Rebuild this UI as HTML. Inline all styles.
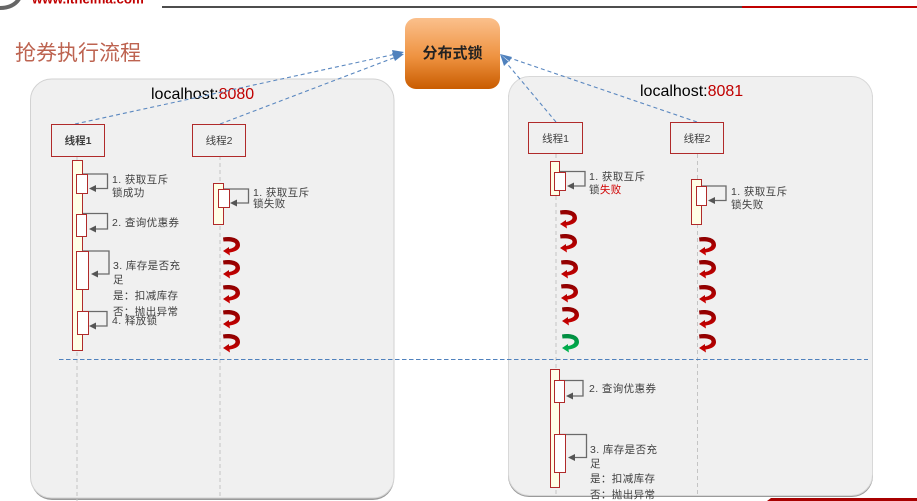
<!DOCTYPE html>
<html><head><meta charset="utf-8">
<style>
html,body{margin:0;padding:0;background:#fff;width:917px;height:501px;overflow:hidden}
svg{display:block}
text{font-family:"Liberation Sans","WenQuanYi Zen Hei","Noto Sans CJK SC",sans-serif}
.t{font-size:10.5px;fill:#404040;letter-spacing:.4px}
.n{font-size:10.5px;fill:#404040;text-anchor:middle}
.h{font-size:16px;fill:#000}
.bar{fill:#ffffe6;stroke:#b02a2a;stroke-width:1}
.in{fill:#fff;stroke:#b02a2a;stroke-width:1}
.th{fill:#f0f0f0;stroke:#b02a2a;stroke-width:1}
.life{stroke:#c4c4c4;stroke-width:1;stroke-dasharray:4 3;fill:none}
.loop{fill:none;stroke:#6a6a6a;stroke-width:1.300}
.ah{fill:#555}
.flow{stroke:#5b88c0;stroke-width:1.100;stroke-dasharray:4 3;fill:none}
</style></head><body>
<svg width="917" height="501" viewBox="0 0 917 501" xmlns="http://www.w3.org/2000/svg">
<defs>
<linearGradient id="lock" x1="0" y1="0" x2="0" y2="1"><stop offset="0" stop-color="#fbc08c"/><stop offset=".55" stop-color="#ee9240"/><stop offset="1" stop-color="#c95c00"/></linearGradient>
<linearGradient id="red" x1="0" y1="0" x2="0" y2="1"><stop offset="0" stop-color="#8c0000"/><stop offset="1" stop-color="#d00000"/></linearGradient>
<linearGradient id="green" x1="0" y1="0" x2="0" y2="1"><stop offset="0" stop-color="#008a40"/><stop offset="1" stop-color="#00b850"/></linearGradient>
<path id="curl" d="M0,.5 C8,-1 17,1 17,8 C17,13 11,15 6.500,15.500 L7,18.500 L0,14 L6,10 L6,12 C9,11.500 12.500,10 12.500,7.500 C12.500,4.500 6,4 .5,4.500 Z"/>
</defs>

<!-- header -->
<path d="M0,8 C8,8 15,5 19,-1" fill="none" stroke="#666" stroke-width="4"/>
<text x="32" y="3.500" font-size="13.300" font-weight="bold" fill="#c00000">www.itheima.com</text>
<rect x="162" y="6" width="580" height="2" fill="#4d4d4d"/>
<rect x="742" y="6" width="175" height="2" fill="#c00000"/>
<text x="15" y="60" font-size="21" fill="#bd6350">抢券执行流程</text>

<!-- panels -->
<rect x="31" y="81" width="363" height="419" rx="21" fill="#9a9a9a"/>
<rect x="30.500" y="79" width="363.500" height="419" rx="21" fill="#f0f0f0" stroke="#d2d2d2"/>
<rect x="508" y="78" width="365" height="419" rx="21" fill="#9a9a9a"/>
<rect x="508.500" y="76.500" width="364" height="419" rx="21" fill="#f0f0f0" stroke="#d8d8d8"/>
<path d="M767,501 L771,498 H917 V501 Z" fill="#a80000"/>

<text class="h" x="151" y="99">localhost:<tspan fill="#c00000">8080</tspan></text>
<text class="h" x="640" y="96">localhost:<tspan fill="#c00000">8081</tspan></text>

<!-- lifelines -->
<path class="life" d="M77,156V501M220,156V497M556,154V497M697.500,154V495"/>

<!-- lock -->
<rect x="405" y="18" width="95" height="71" rx="11" fill="url(#lock)"/>
<text x="452.500" y="58" font-size="15" font-weight="bold" fill="#222" text-anchor="middle">分布式锁</text>

<!-- flow arrows -->
<path class="flow" d="M75,124L396,54M220,124L396,57M556,122L504,60M697,122L507,57"/>
<path d="M404,52L392,50L394,59ZM404,54L392,53L395,61Z" fill="#4f81bd"/>
<path d="M500,54L512,57L509,62ZM500,54L504,66L509,61Z" fill="#4f81bd"/>

<!-- dashed separator -->
<path d="M59,359.500H868" stroke="#4f81bd" stroke-width="1" stroke-dasharray="4.500 2.500"/>

<!-- thread boxes -->
<rect class="th" x="51.500" y="124.500" width="53" height="32"/>
<text class="n" x="78" y="144" font-weight="bold">线程1</text>
<rect class="th" x="192.500" y="124.500" width="53" height="32"/>
<text class="n" x="219" y="144">线程2</text>
<rect class="th" x="528.500" y="122.500" width="54" height="31"/>
<text class="n" x="555.500" y="142">线程1</text>
<rect class="th" x="670.500" y="122.500" width="53" height="31"/>
<text class="n" x="697" y="142">线程2</text>

<!-- left thread 1 -->
<rect class="bar" x="72.500" y="160.500" width="10" height="190"/>
<path class="loop" d="M83,174H107.500V188.500H92M83,213.500H107.500V229H92M82,251H109V274H94M83,311.500H107V326H92"/>
<path class="ah" d="M89,188.500l7,-3.500v7zM89,229l7,-3.500v7zM91,274l7,-3.500v7zM89,326l7,-3.500v7z"/>
<rect class="in" x="76.500" y="174.500" width="11" height="19"/>
<rect class="in" x="76.500" y="214.500" width="10" height="22"/>
<rect class="in" x="76.500" y="251.500" width="12" height="38"/>
<rect class="in" x="77.500" y="311.500" width="11" height="23"/>
<text class="t" x="112" y="183">1. 获取互斥</text>
<text class="t" x="112" y="196">锁成功</text>
<text class="t" x="112" y="226">2. 查询优惠券</text>
<text class="t" x="113" y="269">3. 库存是否充</text>
<text class="t" x="113" y="283">足</text>
<text class="t" x="113" y="299">是：扣减库存</text>
<text class="t" x="113" y="315">否：抛出异常</text>
<text class="t" x="112" y="324">4. 释放锁</text>

<!-- left thread 2 -->
<rect class="bar" x="213.500" y="183.500" width="10" height="41"/>
<path class="loop" d="M224,189H248.500V203H233"/>
<path class="ah" d="M230,203l7,-3.500v7z"/>
<rect class="in" x="218.500" y="189.500" width="11" height="18"/>
<text class="t" x="253" y="196">1. 获取互斥</text>
<text class="t" x="253" y="207">锁失败</text>
<g fill="url(#red)">
<use href="#curl" x="223" y="237"/><use href="#curl" x="223" y="260"/><use href="#curl" x="223" y="285"/><use href="#curl" x="223" y="310"/><use href="#curl" x="223" y="334"/>
</g>

<!-- right thread 1 upper -->
<rect class="bar" x="550.500" y="161.500" width="9" height="34"/>
<path class="loop" d="M560,171.500H585V186H570"/>
<path class="ah" d="M567,186l7,-3.500v7z"/>
<rect class="in" x="554.500" y="172.500" width="11" height="18"/>
<text class="t" x="589" y="180">1. 获取互斥</text>
<text class="t" x="589" y="193">锁<tspan fill="#d00000">失败</tspan></text>
<g fill="url(#red)">
<use href="#curl" x="560" y="210"/><use href="#curl" x="560" y="234"/><use href="#curl" x="561" y="260"/><use href="#curl" x="561" y="284"/><use href="#curl" x="562" y="307"/>
</g>
<use href="#curl" x="562" y="334" fill="url(#green)"/>

<!-- right thread 2 -->
<rect class="bar" x="691.500" y="179.500" width="10" height="45"/>
<path class="loop" d="M702,186H726V200.500H711"/>
<path class="ah" d="M708,200.500l7,-3.500v7z"/>
<rect class="in" x="696.500" y="186.500" width="10" height="19"/>
<text class="t" x="731" y="195">1. 获取互斥</text>
<text class="t" x="731" y="208">锁失败</text>
<g fill="url(#red)">
<use href="#curl" x="699" y="237"/><use href="#curl" x="699" y="260"/><use href="#curl" x="699" y="285"/><use href="#curl" x="699" y="310"/><use href="#curl" x="699" y="334"/>
</g>

<!-- right thread 1 lower -->
<rect class="bar" x="550.500" y="369.500" width="9" height="118"/>
<path class="loop" d="M560,380.500H583V396H569M560,434.500H586.500V457.500H571"/>
<path class="ah" d="M566,396l7,-3.500v7zM568,457.500l7,-3.500v7z"/>
<rect class="in" x="554.500" y="380.500" width="10" height="22"/>
<rect class="in" x="554.500" y="434.500" width="11" height="38"/>
<text class="t" x="589" y="392">2. 查询优惠券</text>
<text class="t" x="590" y="453">3. 库存是否充</text>
<text class="t" x="590" y="467">足</text>
<text class="t" x="590" y="482">是：扣减库存</text>
<text class="t" x="590" y="498">否：抛出异常</text>
</svg>
</body></html>
